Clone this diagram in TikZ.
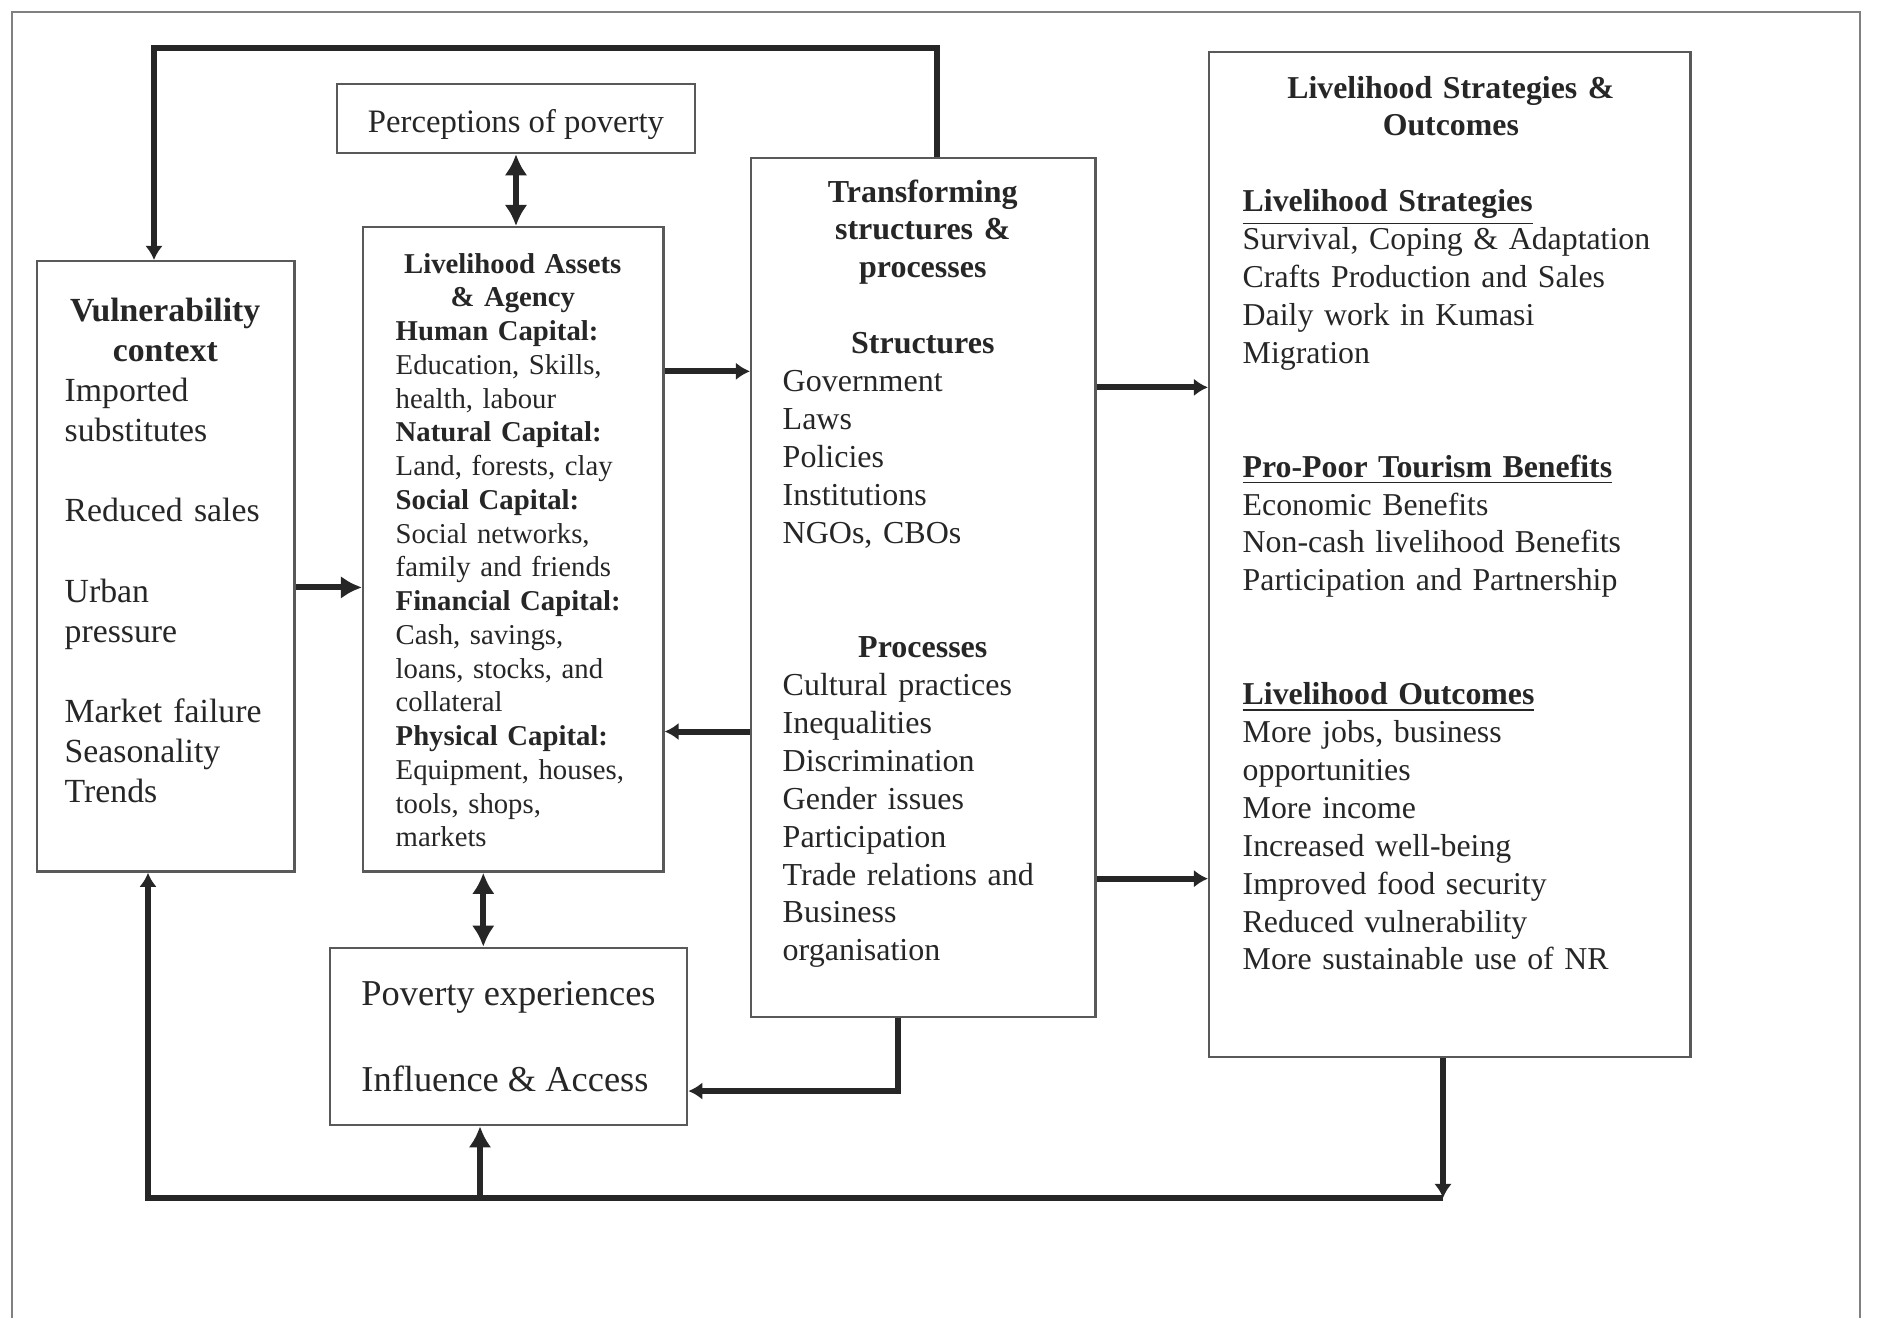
\documentclass[tikz,border=0pt]{standalone}
\usepackage{fontspec}
\setmainfont{Liberation Serif}
\usetikzlibrary{arrows.meta,calc,positioning}
\newcommand{\headline}[2]{\makebox[#1]{\bfseries #2}}

\begin{document}
\begin{tikzpicture}[x=0.01cm,y=-0.01cm,>=Latex,
  frame/.style={draw=black!65,line width=0.7pt,inner sep=0pt,text=black!85},
  txt/.style={anchor=base west,inner sep=0pt,align=left,text=black!85},
  link/.style={line width=1.7pt,draw=black!85},
  arrb/.style={link,-{Latex[length=6pt,width=6.5pt]}},
  dblb/.style={link,{Latex[length=6pt,width=6.5pt]}-{Latex[length=6pt,width=6.5pt]}},
  arrs/.style={link,-{Latex[length=4pt,width=5pt]}}]
  \useasboundingbox (0,0) rectangle (1888,1318);
  \draw[black!50,line width=0.6pt] (12,1318) -- (12,12) -- (1860,12) -- (1860,1318);

  \node[frame,anchor=north west,minimum width=2.57cm,minimum height=6.10cm] (vul) at (36,260) {};
  \node[frame,anchor=north west,minimum width=3.00cm,minimum height=6.44cm] (assets) at (362,226) {};
  \node[frame,anchor=north west,minimum width=3.44cm,minimum height=8.58cm] (trans) at (750,157) {};
  \node[frame,anchor=north west,minimum width=4.81cm,minimum height=10.04cm] (strat) at (1208,51) {};
  \node[frame,minimum width=3.58cm,minimum height=0.69cm,font=\fontsize{9.3pt}{11pt}\selectfont] (perc) at (516,118.5) {\raisebox{-4pt}[0pt][0pt]{Perceptions of poverty}};
  \node[frame,minimum width=3.57cm,minimum height=1.77cm,align=left,font=\fontsize{10.35pt}{12.3pt}\selectfont] (pov) at (508.5,1036.5) {Poverty experiences\\[12pt]Influence \& Access};

  \node[txt,text width=2.4cm,font=\fontsize{9.6pt}{11.42pt}\selectfont] (vultxt) at (64,321) {%
    \headline{2.01cm}{Vulnerability}\\
    \headline{2.01cm}{context}\\
    Imported\\
    substitutes\\[\baselineskip]
    Reduced sales\\[\baselineskip]
    Urban\\
    pressure\\[\baselineskip]
    Market failure\\
    Seasonality\\
    Trends};
  \node[txt,text width=2.6cm,font=\fontsize{8.17pt}{9.6pt}\selectfont] (assetstxt) at (395,273) {%
    \headline{2.34cm}{Livelihood Assets}\\
    \headline{2.34cm}{\& Agency}\\
    \textbf{Human Capital:}\\
    Education, Skills,\\
    health, labour\\
    \textbf{Natural Capital:}\\
    Land, forests, clay\\
    \textbf{Social Capital:}\\
    Social networks,\\
    family and friends\\
    \textbf{Financial Capital:}\\
    Cash, savings,\\
    loans, stocks, and\\
    collateral\\
    \textbf{Physical Capital:}\\
    Equipment, houses,\\
    tools, shops,\\
    markets};
  \node[txt,text width=3.0cm,font=\fontsize{9.1pt}{10.79pt}\selectfont] (transtxt) at (782,202) {%
    \headline{2.8cm}{Transforming}\\
    \headline{2.8cm}{structures \&}\\
    \headline{2.8cm}{processes}\\[\baselineskip]
    \headline{2.8cm}{Structures}\\
    Government\\
    Laws\\
    Policies\\
    Institutions\\
    NGOs, CBOs\\[2\baselineskip]
    \headline{2.8cm}{Processes}\\
    Cultural practices\\
    Inequalities\\
    Discrimination\\
    Gender issues\\
    Participation\\
    Trade relations and\\
    Business\\
    organisation};
  \node[txt,text width=4.5cm,font=\fontsize{9.05pt}{10.78pt}\selectfont] (strattxt) at (1242,98) {%
    \headline{4.16cm}{Livelihood Strategies \&}\\
    \headline{4.16cm}{Outcomes}\\[\baselineskip]
    \underline{\textbf{Livelihood Strategies}}\\
    Survival, Coping \& Adaptation\\
    Crafts Production and Sales\\
    Daily work in Kumasi\\
    Migration\\[2\baselineskip]
    \underline{\textbf{Pro-Poor Tourism Benefits}}\\
    Economic Benefits\\
    Non-cash livelihood Benefits\\
    Participation and Partnership\\[2\baselineskip]
    \underline{\textbf{Livelihood Outcomes}}\\
    More jobs, business\\
    opportunities\\
    More income\\
    Increased well-being\\
    Improved food security\\
    Reduced vulnerability\\
    More sustainable use of NR};

  \coordinate (tl) at (154,48);
  \coordinate (bl) at (148,1198);
  \coordinate (bm) at (480,1198);
  \coordinate (br) at (1443,1198);

  \draw[arrs] ([xshift=1.87cm]trans.north west) |- (tl) -- (tl |- vul.north);
  \draw[dblb] (perc.south) -- (perc.south |- assets.north);
  \draw[arrb] ([yshift=-0.21cm]vul.east) -- ([yshift=-0.21cm]vul.east -| assets.west);
  \draw[arrs] ([yshift=1.78cm]assets.east) -- ([yshift=1.78cm]assets.east -| trans.west);
  \draw[arrs] ([yshift=-1.82cm]assets.east -| trans.west) -- ([yshift=-1.82cm]assets.east);
  \draw[arrs] ([yshift=2cm]trans.east) -- ([yshift=2cm]trans.east -| strat.west);
  \draw[arrs] ([yshift=-2.91cm]trans.east) -- ([yshift=-2.91cm]trans.east -| strat.west);
  \draw[dblb] ([xshift=-0.3cm]assets.south) -- ([xshift=-0.3cm]assets.south |- pov.north);
  \draw[arrs] ([xshift=-0.25cm]trans.south) |- ([yshift=-0.545cm]pov.east);
  \draw[arrs] (br |- strat.south) -- (br);
  \draw[arrs] (br) -- (bl) -- (bl |- vul.south);
  \draw[arrb] (bm) -- (bm |- pov.south);
\end{tikzpicture}
\end{document}
